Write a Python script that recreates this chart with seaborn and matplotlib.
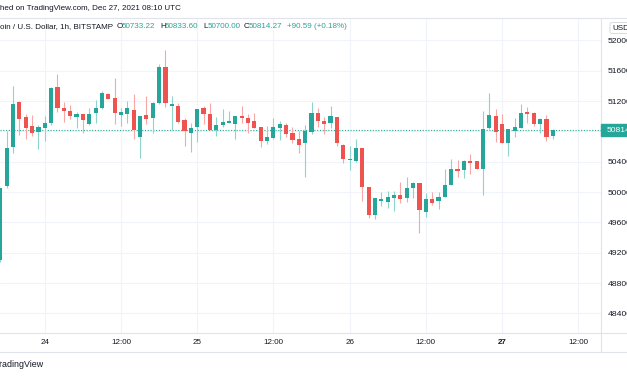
import matplotlib
matplotlib.use("Agg")
import matplotlib.pyplot as plt
import matplotlib.patches as patches
import seaborn as sns
import numpy as np
import pandas as pd

# hourly BTC/USD candles (Bitstamp), Dec 23 17:00 UTC -> Dec 27 08:00 UTC
opens = [49104, 50080, 50598, 51183, 50985, 50875, 50787, 50849, 50915, 51385,
         51108, 51069, 50994, 51029, 50893, 51038, 51104, 51293, 51236, 51020,
         51029, 51077, 50721, 51012, 50972, 51170, 51645, 51130, 51139, 50950,
         50774, 50853, 51104, 51029, 50818, 50884, 50915, 50902, 51003, 50976,
         50937, 50853, 50677, 50708, 50840, 50884, 50783, 50699, 50642, 50787,
         51038, 50937, 50910, 50990, 50620, 50419, 50410, 50577, 50062, 49698,
         49887, 49873, 49926, 49961, 49917, 50049, 50124, 49742, 49904, 49882,
         49939, 50093, 50300, 50291, 50410, 50410, 50304, 50841, 51003, 50893,
         50643, 50810, 50849, 51052, 51038, 50893, 50968, 50733.22]
highs = [50060, 50809, 51398, 51205, 51029, 51012, 50884, 51003, 51390, 51552,
         51192, 51143, 51060, 51029, 51104, 51214, 51332, 51302, 51504, 51104,
         51201, 51288, 51003, 51271, 51192, 51684, 51873, 51266, 51170, 50972,
         50915, 51095, 51135, 51170, 50994, 51091, 51073, 51003, 51135, 51029,
         51038, 50853, 50871, 50972, 50941, 50915, 50853, 50809, 50884, 51192,
         51104, 50985, 51135, 50990, 50629, 50612, 50700, 50577, 50062, 49917,
         50005, 50014, 50019, 50137, 50203, 50137, 50124, 49992, 50005, 50005,
         50300, 50432, 50423, 50423, 50502, 50410, 51074, 51302, 51096, 51025,
         50832, 50972, 51161, 51126, 51060, 50981, 51016, 50833.60]
lows = [49080, 50060, 50510, 50752, 50695, 50743, 50563, 50673, 50880, 51060,
        50919, 50959, 50840, 50774, 50884, 50915, 51095, 51231, 50897, 50875,
        50906, 50695, 50449, 50893, 50774, 51157, 51126, 50818, 50906, 50607,
        50524, 50664, 50897, 50818, 50739, 50853, 50915, 50704, 50906, 50783,
        50840, 50590, 50633, 50699, 50686, 50730, 50642, 50510, 50203, 50761,
        50853, 50765, 50840, 50607, 50387, 50291, 50401, 49887, 49654, 49640,
        49816, 49786, 49750, 49860, 49873, 49917, 49456, 49676, 49829, 49772,
        49931, 50093, 50194, 50190, 50238, 50300, 49961, 50827, 50665, 50643,
        50480, 50722, 50849, 50907, 50871, 50775, 50678, 50700.00]
closes = [50049, 50576, 51157, 50959, 50840, 50783, 50853, 50915, 51376, 51104,
          51073, 51003, 51029, 50950, 51029, 51108, 51302, 51231, 51047, 51051,
          51104, 50818, 51003, 50963, 51179, 51645, 51179, 51161, 50928, 50805,
          50844, 51095, 51029, 50818, 50884, 50924, 50937, 51003, 50972, 50906,
          50840, 50673, 50721, 50853, 50897, 50765, 50686, 50620, 50805, 51038,
          50937, 50902, 51003, 50642, 50440, 50436, 50577, 50062, 49698, 49917,
          49913, 49939, 49961, 49909, 50049, 50115, 49764, 49909, 49860, 49939,
          50093, 50300, 50282, 50410, 50379, 50300, 50827, 51016, 50797, 50643,
          50832, 50854, 51038, 51034, 50893, 50968, 50722, 50814.27]

price_ticks = [48400, 48800, 49200, 49600, 50000, 50400, 50800, 51200, 51600, 52000]
change = 90.59
change_pct = 0.18

times = pd.date_range("2021-12-23 17:00", periods=len(opens), freq="h")
tick_times = pd.date_range("2021-12-24 00:00", "2021-12-27 12:00", freq="12h")

W, H = 627, 376
GREEN = "#26a69a"
RED = "#ef5350"
TXT = "#131722"
LINE = "#e0e3eb"

sns.set_style("white")
plt.rcParams["font.family"] = ["Liberation Sans", "DejaVu Sans"]
FS = 5.8

df = pd.DataFrame({"time": times, "open": opens, "high": highs,
                   "low": lows, "close": closes})
df["x"] = (df["time"] - times[0]) / pd.Timedelta(hours=1)
df["up"] = df["close"] >= df["open"]

fig = plt.figure(figsize=(W / 100, H / 100), dpi=100)
fig.patch.set_facecolor("white")


def fx(px):
    return px / W


def fy(py):
    return 1 - py / H


ax = fig.add_axes([0, fy(333), fx(601), (333 - 18) / H])
ax.set_facecolor("white")

# wicks and bodies
wick_col = np.where(df["up"], "#8fd4cc", "#f7a7a5")
ax.vlines(df["x"], df["low"], df["high"], colors=wick_col, lw=0.8, zorder=2)
body_bottom = np.minimum(df["open"], df["close"])
body_h = np.maximum(np.abs(df["close"] - df["open"]), 8)
ax.bar(df["x"], body_h, bottom=body_bottom, width=0.66,
       color=np.where(df["up"], GREEN, RED), linewidth=0, zorder=3)

last = closes[-1]
ax.axhline(last, color=GREEN, lw=0.8, ls=(0, (1, 1.5)), zorder=1)

ax.set_xlim(-0.055, 94.59)
ax.set_ylim(48141.5, 52295)

tick_x = (tick_times - times[0]) / pd.Timedelta(hours=1)
tick_lab = [t.strftime("%H:%M") if t.hour else str(t.day) for t in tick_times]
ax.set_xticks(tick_x)
ax.set_xticklabels(tick_lab)
ax.set_yticks(price_ticks)
ax.set_yticklabels([str(p) if p != 50800 else "" for p in price_ticks])
ax.grid(True, color="#f0f3fa", lw=0.8, zorder=0)
ax.tick_params(axis="x", length=0, pad=4.6, labelsize=FS, colors=TXT)
ax.tick_params(axis="y", length=0, pad=4.8, labelsize=FS + 0.3, colors=TXT,
               left=False, labelleft=False, right=False, labelright=True)
for lab in ax.get_xticklabels():
    if lab.get_text() == "27":
        lab.set_fontweight("bold")
sns.despine(ax=ax, left=True, bottom=True, right=True, top=True)

# frame lines
for yy in (18, 333, 352):
    fig.add_artist(plt.Line2D([0, 1], [fy(yy), fy(yy)], color=LINE, lw=0.8))
fig.add_artist(plt.Line2D([fx(601), fx(601)], [fy(18), fy(352)], color=LINE, lw=0.8))

# last price label
yl = 40.4 + (52000 - last) * 0.07583
fig.add_artist(patches.Rectangle((fx(601), fy(yl + 6)), fx(26), 12 / H,
                                 color=GREEN, transform=fig.transFigure, zorder=5))
fig.text(fx(607), fy(yl), f"{last:.2f}", color="white", fontsize=FS + 0.3,
         va="center", ha="left", zorder=6)

# currency box
fig.text(fx(612), fy(28), "USD", fontsize=FS, color=TXT, va="center", ha="left",
         bbox=dict(boxstyle="round,pad=0.25", fc="white", ec="#d1d4dc", lw=0.6))

# header
fig.text(fx(0), fy(9), "hed on TradingView.com, Dec 27, 2021 08:10 UTC",
         fontsize=FS, color=TXT, va="center", ha="left")
hy = fy(27)
fig.text(fx(0), hy, "oin / U.S. Dollar, 1h, BITSTAMP", fontsize=FS, color=TXT,
         va="center", ha="left")
for px, key, val in [(117, "O", opens[-1]), (160, "H", highs[-1]),
                     (203, "L", lows[-1]), (244, "C", closes[-1])]:
    fig.text(fx(px), hy, key, fontsize=FS, color=TXT, va="center", ha="left")
    fig.text(fx(px + 5), hy, f"{val:.2f}", fontsize=FS, color=GREEN,
             va="center", ha="left")
fig.text(fx(287), hy, f"+{change:.2f} (+{change_pct:.2f}%)", fontsize=FS,
         color=GREEN, va="center", ha="left")

fig.text(fx(44), fy(364.5), "TradingView", fontsize=6.4, color=TXT,
         va="center", ha="right")

fig.savefig("out.png", dpi=100, facecolor="white")
